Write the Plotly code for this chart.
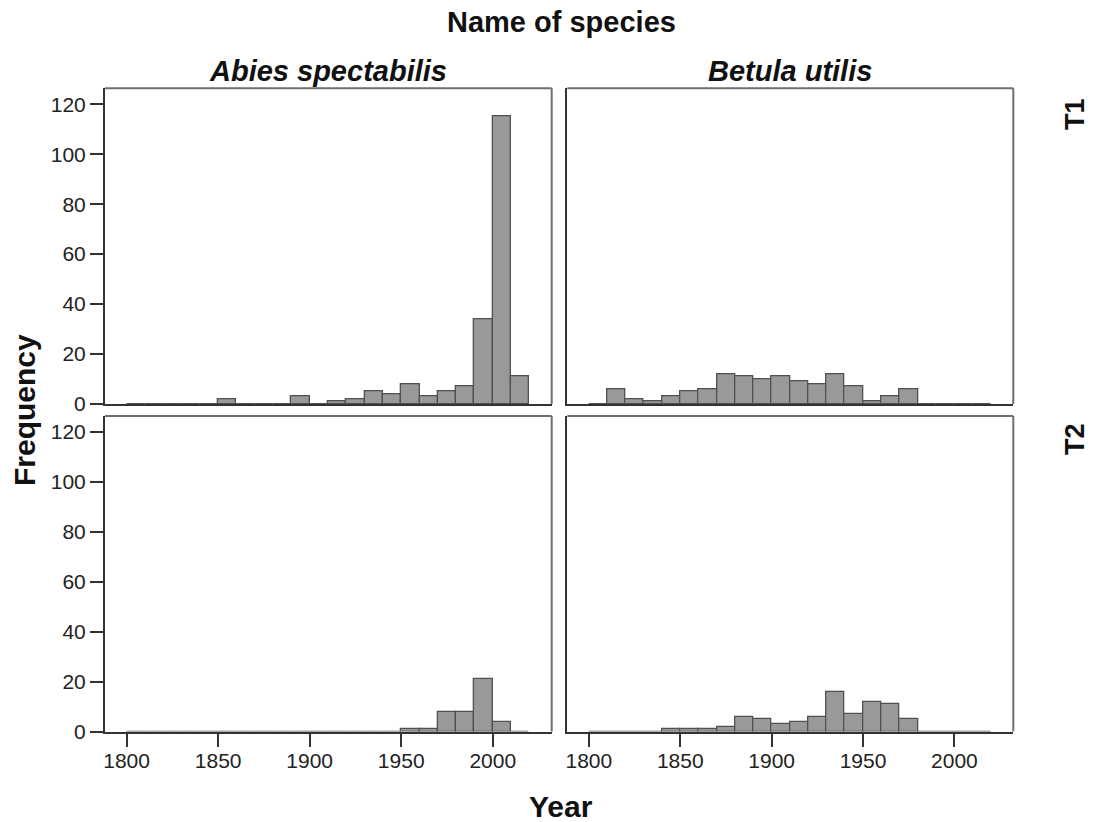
import plotly.graph_objects as go

# Decade bins (left edges) shared by all four histograms
bin_starts = [1800, 1810, 1820, 1830, 1840, 1850, 1860, 1870, 1880, 1890, 1900,
              1910, 1920, 1930, 1940, 1950, 1960, 1970, 1980, 1990, 2000, 2010]
bin_width = 10

# Frequencies per decade, by species and time period
abies_t1 = [0, 0, 0, 0, 0, 2, 0, 0, 0, 3, 0, 1, 2, 5, 4, 8, 3, 5, 7, 34, 115, 11]
betula_t1 = [0, 6, 2, 1, 3, 5, 6, 12, 11, 10, 11, 9, 8, 12, 7, 1, 3, 6, 0, 0, 0, 0]
abies_t2 = [0, 0, 0, 0, 0, 0, 0, 0, 0, 0, 0, 0, 0, 0, 0, 1, 1, 8, 8, 21, 4, 0]
betula_t2 = [0, 0, 0, 0, 1, 1, 1, 2, 6, 5, 3, 4, 6, 16, 7, 12, 11, 5, 0, 0, 0, 0]

species = ["Abies spectabilis", "Betula utilis"]
periods = ["T1", "T2"]
x_ticks = [1800, 1850, 1900, 1950, 2000]
y_ticks = [0, 20, 40, 60, 80, 100, 120]

W, H = 1095, 822
FONT = "Liberation Sans, Arial, sans-serif"
BAR_FILL = "#999999"
BAR_EDGE = "#505050"
AXIS_COLOR = "#333333"
FRAME_COLOR = "#6e6e6e"

# panel pixel boxes: columns (left, right) and rows (top, bottom)
col_px = [(105, 551.7), (567.3, 1013.3)]
row_px = [(88.3, 404), (416, 731.5)]

def xdom(c):
    a, b = col_px[c]
    return [a / W, b / W]

def ydom(r):
    t, b = row_px[r]
    return [1 - b / H, 1 - t / H]

centers = [s + bin_width / 2 for s in bin_starts]
panels = [
    (0, 0, abies_t1),
    (0, 1, betula_t1),
    (1, 0, abies_t2),
    (1, 1, betula_t2),
]

fig = go.Figure()
layout = dict(
    width=W, height=H,
    margin=dict(l=0, r=0, t=0, b=0, pad=0, autoexpand=False),
    paper_bgcolor="white", plot_bgcolor="white",
    showlegend=False,
    bargap=0,
    font=dict(family=FONT, color="#111111"),
)
shapes = []

for i, (r, c, counts) in enumerate(panels):
    n = i + 1
    xa = "x" if n == 1 else f"x{n}"
    ya = "y" if n == 1 else f"y{n}"
    fig.add_trace(go.Bar(
        x=centers, y=counts, width=[bin_width] * len(centers),
        xaxis=xa, yaxis=ya,
        marker=dict(color=BAR_FILL, line=dict(color=BAR_EDGE, width=1.3)),
        hoverinfo="x+y",
    ))
    xkey = "xaxis" if n == 1 else f"xaxis{n}"
    ykey = "yaxis" if n == 1 else f"yaxis{n}"
    layout[xkey] = dict(
        domain=xdom(c), anchor=ya, range=[1788.2, 2032.2],
        tickvals=x_ticks, showticklabels=(r == 1),
        ticks="outside" if r == 1 else "", ticklen=13, tickwidth=2,
        ticklabelstandoff=-4,
        tickcolor=AXIS_COLOR, automargin=False,
        showline=True, linecolor=AXIS_COLOR, linewidth=2,
        showgrid=False, zeroline=False,
        tickfont=dict(size=21, family=FONT, color="#222222"),
    )
    layout[ykey] = dict(
        domain=ydom(r), anchor=xa, range=[0, 126.4],
        tickvals=y_ticks, showticklabels=(c == 0),
        ticks="outside" if c == 0 else "", ticklen=13, tickwidth=2,
        tickcolor=AXIS_COLOR, automargin=False,
        showline=True, linecolor=AXIS_COLOR, linewidth=2,
        showgrid=False, zeroline=False,
        tickfont=dict(size=21, family=FONT, color="#222222"),
    )
    # top and right frame edges
    x0, x1 = xdom(c)
    y0, y1 = ydom(r)
    shapes.append(dict(type="line", xref="paper", yref="paper",
                       x0=x0, x1=x1, y0=y1, y1=y1,
                       line=dict(color=FRAME_COLOR, width=2)))
    shapes.append(dict(type="line", xref="paper", yref="paper",
                       x0=x1, x1=x1, y0=y0, y1=y1,
                       line=dict(color=FRAME_COLOR, width=2)))

bold = dict(family=FONT, size=30, color="#111111")
annotations = [
    dict(text="<b>Name of species</b>", x=561 / W, y=1 - 22 / H,
         font=dict(family=FONT, size=29, color="#111111")),
    dict(text="<b>Year</b>", x=561 / W, y=1 - 806 / H, font=bold),
    dict(text="<b>Frequency</b>", x=25 / W, y=1 - 410 / H, font=bold,
         textangle=-90),
]
for c, name in enumerate(species):
    a, b = col_px[c]
    annotations.append(dict(
        text=f"<b><i>{name}</i></b>", x=(a + b) / 2 / W, y=1 - 71 / H,
        font=dict(family=FONT, size=29, color="#111111")))
for r, (p, ypx) in enumerate(zip(periods, [114, 439])):
    annotations.append(dict(
        text=f"<b>{p}</b>", x=1075 / W, y=1 - ypx / H, textangle=-90,
        font=dict(family=FONT, size=27, color="#111111")))
for an in annotations:
    an.update(xref="paper", yref="paper", showarrow=False,
              xanchor="center", yanchor="middle")

layout["shapes"] = shapes
layout["annotations"] = annotations
fig.update_layout(**layout)
fig.write_html("out.html")
